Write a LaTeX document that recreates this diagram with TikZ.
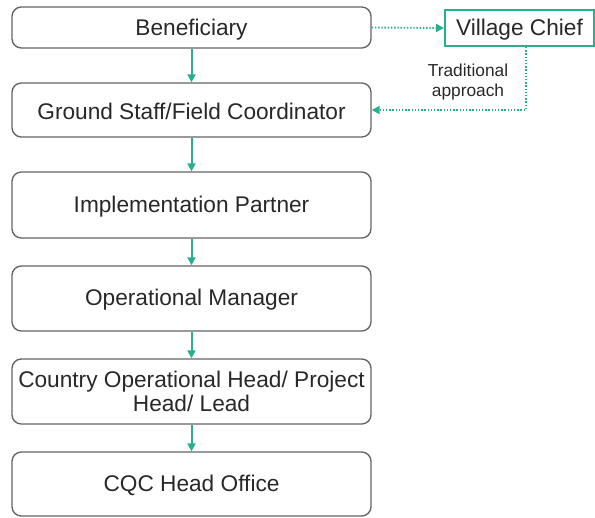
\documentclass[tikz,border=0pt]{standalone}
\usepackage{fontspec}
\setmainfont{Liberation Sans}
\usetikzlibrary{arrows.meta,positioning}
\definecolor{teal}{RGB}{38,176,142}
\definecolor{boxgray}{RGB}{100,100,100}
\definecolor{txt}{RGB}{40,40,40}
\begin{document}
\begin{tikzpicture}[x=0.75pt,y=-0.75pt,
  rbox/.style={draw=boxgray,line width=1pt,rounded corners=7pt,minimum width=269.25pt,
    inner sep=0pt,align=center,text=txt,font=\fontsize{17}{18}\selectfont},
  chiefbox/.style={draw=teal,line width=1.5pt,minimum width=111.75pt,minimum height=27pt,
    inner sep=0pt,text=txt,font=\fontsize{17}{18}\selectfont},
  flow/.style={draw=teal,line width=1.5pt,-{Triangle[length=6pt,width=6pt]}},
  dotflow/.style={draw=teal,line width=1.4pt,dash pattern=on 1.1pt off 1.3pt,-{Triangle[length=6pt,width=6pt]}},
  lbl/.style={text=txt,align=center,font=\fontsize{13}{15}\selectfont}]
\useasboundingbox (0,0) rectangle (595,517);
\node[rbox,minimum height=30.75pt] (ben) at (191.5,27.5) {\raisebox{-1.5pt}[\height][\depth]{Beneficiary}};
\node[rbox,minimum height=40.5pt] (gs) at (191.5,110) {\raisebox{-1pt}[\height][\depth]{Ground Staff/Field Coordinator}};
\node[rbox,minimum height=49.5pt] (ip) at (191.5,205) {\raisebox{-1pt}[\height][\depth]{Implementation Partner}};
\node[rbox,minimum height=48.75pt] (om) at (191.5,298.5) {\raisebox{-1pt}[\height][\depth]{Operational Manager}};
\node[rbox,minimum height=48.75pt] (coh) at (191.5,391.5) {Country Operational Head/ Project\\Head/ Lead};
\node[rbox,minimum height=48pt] (cqc) at (191.5,484) {\raisebox{-1pt}[\height][\depth]{CQC Head Office}};
\node[chiefbox] (vc) at (519.5,28) {\raisebox{-1pt}[\height][\depth]{Village Chief}};
\node[lbl] (trad) at (468,82) {Traditional\\approach};
\draw[flow] (ben) -- (gs);
\draw[flow] (gs) -- (ip);
\draw[flow] (ip) -- (om);
\draw[flow] (om) -- (coh);
\draw[flow] (coh) -- (cqc);
\draw[dotflow] (ben.east) -- (vc.west);
\draw[dotflow] ([xshift=4.9pt]vc.south) |- (gs.east);
\end{tikzpicture}
\end{document}
